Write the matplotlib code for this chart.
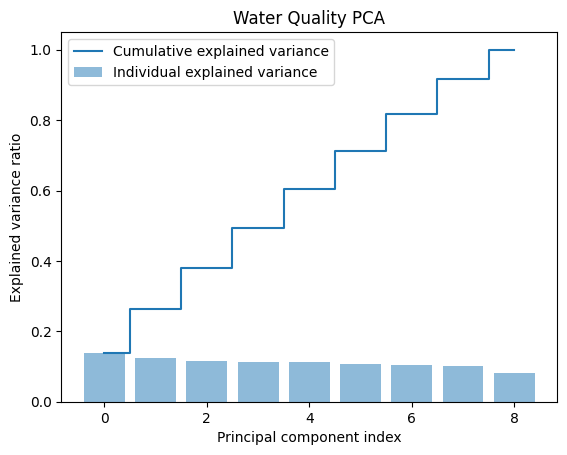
import numpy as np
import matplotlib.pyplot as plt

# explained variance ratio per principal component
components = np.arange(9)
explained_var = [0.139, 0.125, 0.116, 0.113, 0.112, 0.107, 0.104, 0.101, 0.083]
cumulative_var = np.cumsum(explained_var)

plt.figure(figsize=(6.4, 4.8), dpi=100)
plt.bar(components, explained_var, alpha=0.5, align='center', label='Individual explained variance')
plt.step(components, cumulative_var, where='mid', label='Cumulative explained variance')
plt.ylabel('Explained variance ratio')
plt.xlabel('Principal component index')
plt.title('Water Quality PCA')
plt.legend(loc='best')
plt.savefig('out.png', bbox_inches='tight')
